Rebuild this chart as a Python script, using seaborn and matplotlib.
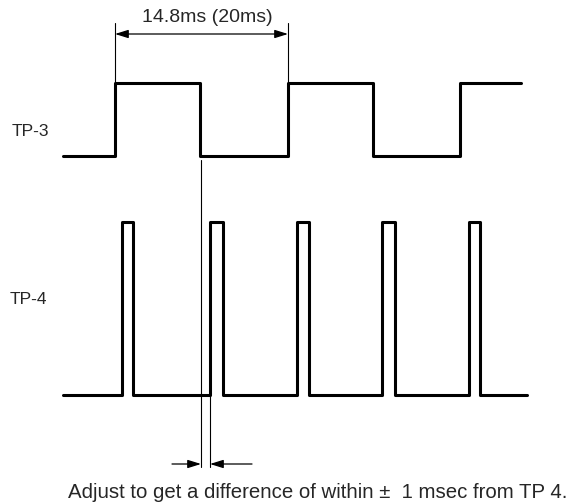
import matplotlib
matplotlib.use("Agg")
import matplotlib.pyplot as plt
import seaborn as sns
import pandas as pd

sns.set_theme(style="white")
plt.rcParams['font.family'] = ['Liberation Sans', 'DejaVu Sans']

# Waveform data (horizontal positions of edges, in drawing units)
tp3_edges = [115, 200, 288, 373, 460]      # alternating rise / fall
tp3_start, tp3_end = 63, 521
tp3_low, tp3_high = 156, 83

tp4_pulses = [(122, 133), (210, 223), (297, 309), (382, 395), (469, 480)]
tp4_start, tp4_end = 63, 527
tp4_low, tp4_high = 395, 222

labels = ["TP-3", "TP-4"]
period_text = "14.8ms (20ms)"
note_text = "Adjust to get a difference of within \u00b1  1 msec from TP 4."


def square_wave(start, edges, end, low, high):
    xs, ys = [start], [low]
    level = low
    for e in edges:
        xs += [e, e]
        new = high if level == low else low
        ys += [level, new]
        level = new
    xs.append(end)
    ys.append(level)
    return xs, ys


def pulse_train(start, pulses, end, low, high):
    xs, ys = [start], [low]
    for r, f in pulses:
        xs += [r, r, f, f]
        ys += [low, high, high, low]
    xs.append(end)
    ys.append(low)
    return xs, ys


x3, y3 = square_wave(tp3_start, tp3_edges, tp3_end, tp3_low, tp3_high)
x4, y4 = pulse_train(tp4_start, tp4_pulses, tp4_end, tp4_low, tp4_high)

df = pd.concat([
    pd.DataFrame({"x": x3, "y": y3, "sig": labels[0], "i": range(len(x3))}),
    pd.DataFrame({"x": x4, "y": y4, "sig": labels[1], "i": range(len(x4))}),
])

fig = plt.figure(figsize=(5.69, 5.03), dpi=100)
ax = fig.add_axes([0, 0, 1, 1])
for name in labels:
    sub = df[df.sig == name]
    sns.lineplot(data=sub, x="x", y="y", sort=False, estimator=None,
                 color="black", linewidth=2.2, ax=ax, legend=False)

ax.set_xlim(0, 569)
ax.set_ylim(503, 0)
ax.axis("off")

thin = dict(color="black", linewidth=0.8)
# period dimension
p0, p1 = tp3_edges[0], tp3_edges[2]
ax.plot([p0, p0], [23, tp3_high], **thin)
ax.plot([p1, p1], [23, tp3_high], **thin)
ax.annotate("", xy=(p0, 34), xytext=(p1, 34),
            arrowprops=dict(arrowstyle="<|-|>,head_length=0.8,head_width=0.25",
                            color="black", lw=0.9,
                            mutation_scale=10, shrinkA=0, shrinkB=0))
ax.text((p0 + p1) / 2 + 6, 17, period_text, ha="center", va="center", fontsize=14)

# phase difference lines
f0 = tp3_edges[1] + 1
r1 = tp4_pulses[1][0]
ax.plot([f0, f0], [160, 467], **thin)
ax.plot([r1, r1], [tp4_low, 467], **thin)
for x_from, x_to in [(172, f0), (252, r1)]:
    ax.annotate("", xy=(x_to, 464), xytext=(x_from, 464),
                arrowprops=dict(arrowstyle="-|>,head_length=0.8,head_width=0.25",
                                color="black", lw=0.9,
                                mutation_scale=10, shrinkA=0, shrinkB=0))

ax.text(12, 131, labels[0], ha="left", va="center", fontsize=12.5)
ax.text(10, 300, labels[1], ha="left", va="center", fontsize=12.5)
ax.text(68, 492, note_text, ha="left", va="center", fontsize=14.7)

fig.savefig("out.png", dpi=100)
